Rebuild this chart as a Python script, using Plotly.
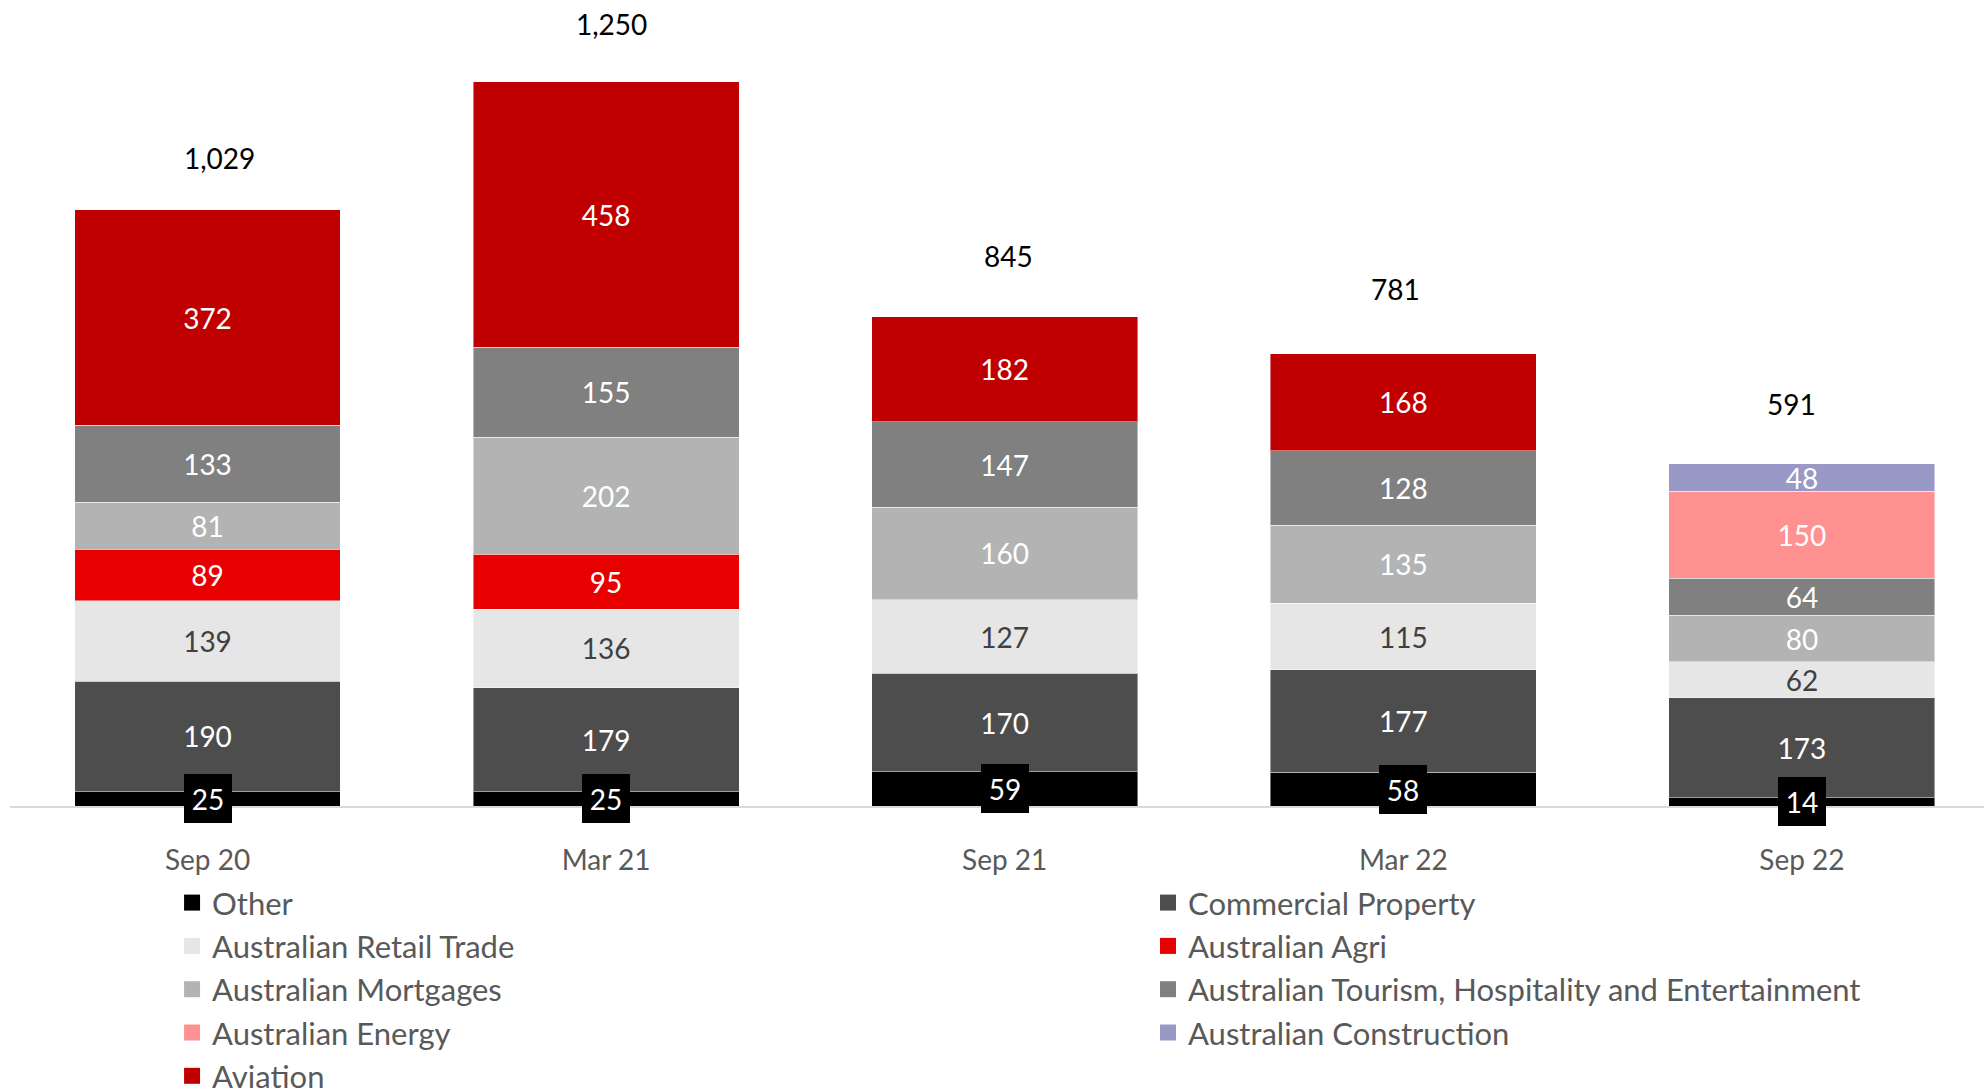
import plotly.graph_objects as go

categories = ["Sep 20", "Mar 21", "Sep 21", "Mar 22", "Sep 22"]

other = [25, 25, 59, 58, 14]
commercial_property = [190, 179, 170, 177, 173]
retail_trade = [139, 136, 127, 115, 62]
agri = [89, 95, None, None, None]
mortgages = [81, 202, 160, 135, 80]
tourism = [133, 155, 147, 128, 64]
energy = [None, None, None, None, 150]
construction = [None, None, None, None, 48]
aviation = [372, 458, 182, 168, None]

# (name, values, fill colour, label colour, legend column)
series = [
    ("Other", other, "#000000", "#ffffff", "legend"),
    ("Commercial Property", commercial_property, "#4d4d4d", "#ffffff", "legend2"),
    ("Australian Retail Trade", retail_trade, "#e6e6e6", "#404040", "legend"),
    ("Australian Agri", agri, "#e80000", "#ffffff", "legend2"),
    ("Australian Mortgages", mortgages, "#b3b3b3", "#ffffff", "legend"),
    ("Australian Tourism, Hospitality and Entertainment", tourism, "#808080", "#ffffff", "legend2"),
    ("Australian Energy", energy, "#ff9191", "#ffffff", "legend"),
    ("Australian Construction", construction, "#9999c8", "#ffffff", "legend2"),
    ("Aviation", aviation, "#c00000", "#ffffff", "legend"),
]

FONT = "Lato, sans-serif"
FS = 28
LFS = 31

fig = go.Figure()
for name, vals, color, tcolor, leg in series:
    show_text = name != "Other"
    fig.add_trace(go.Bar(
        name=name,
        x=categories,
        y=vals,
        showlegend=False,
        marker=dict(color=color, line=dict(color="rgba(255,255,255,0.45)", width=1)),
        text=[str(v) if v is not None else "" for v in vals] if show_text else None,
        textposition="inside" if show_text else "none",
        insidetextanchor="middle",
        textangle=0,
        constraintext="none",
        textfont=dict(family=FONT, size=FS, color=tcolor),
        hoverinfo="skip",
    ))

# legend swatches (square markers, larger than the default bar swatch)
for name, vals, color, tcolor, leg in series:
    fig.add_trace(go.Scatter(
        name=name, x=[None], y=[None], mode="markers", legend=leg,
        marker=dict(symbol="square", size=18, color=color, line=dict(width=0)),
        hoverinfo="skip", showlegend=True,
    ))

# totals above the stacks
totals = [sum(v[i] or 0 for _, v, _, _, _ in series) for i in range(len(categories))]
label_dx = [12, 5, 4, -8, -10]
label_dy = [52, 58, 61, 65, 60]
annotations = []
for i, t in enumerate(totals):
    annotations.append(dict(
        x=categories[i], y=t, xref="x", yref="y", text=f"{t:,}",
        showarrow=False, xshift=label_dx[i], yshift=label_dy[i],
        yanchor="middle", font=dict(family=FONT, size=FS, color="#000000"),
    ))
# boxed labels for "Other"
for i, v in enumerate(other):
    annotations.append(dict(
        x=categories[i], y=v / 2, xref="x", yref="y", text=str(v),
        showarrow=False, bgcolor="#000000", borderwidth=0, borderpad=0,
        width=48, height=49, yanchor="middle", valign="middle",
        font=dict(family=FONT, size=FS, color="#ffffff"),
    ))

legend_common = dict(
    orientation="v", xanchor="left", yanchor="top", y=-0.0868,
    traceorder="normal",
    font=dict(family=FONT, size=LFS, color="#595959"),
    bgcolor="rgba(0,0,0,0)", borderwidth=0,
)

fig.update_layout(
    width=1984, height=1090,
    barmode="stack", bargap=0.333,
    plot_bgcolor="#ffffff", paper_bgcolor="#ffffff",
    margin=dict(l=10, r=0, t=0, b=284, autoexpand=False),
    font=dict(family=FONT, size=FS, color="#595959"),
    showlegend=True,
    legend=dict(x=0.0821, **legend_common),
    legend2=dict(x=0.5765, **legend_common),
    xaxis=dict(
        type="category", range=[-0.4955, 4.4569],
        showline=True, linecolor="#d9d9d9", linewidth=2,
        ticks="", showgrid=False, zeroline=False,
        tickfont=dict(family=FONT, size=FS, color="#595959"),
        ticklabelstandoff=28,
    ),
    yaxis=dict(
        range=[0, 1391.5], visible=False, showgrid=False, zeroline=False,
    ),
    annotations=annotations,
)

fig.write_html(
    "out.html",
    config={"displayModeBar": False, "staticPlot": True},
    post_script="document.body.style.margin='0';document.body.style.padding='0';",
)
